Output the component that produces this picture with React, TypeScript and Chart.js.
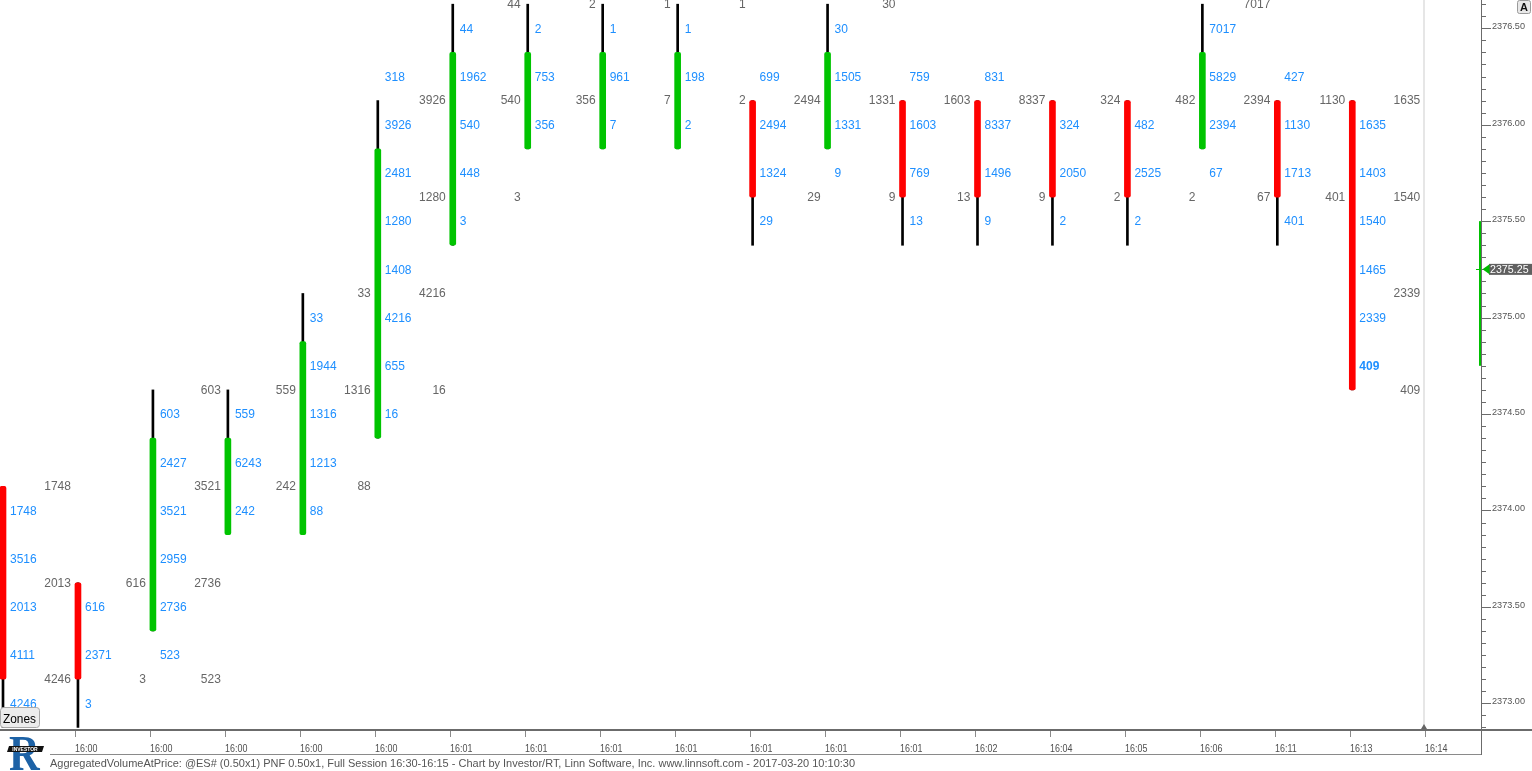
import React, { useEffect, useRef } from "react";
import { Chart, registerables } from "chart.js";

Chart.register(...registerables);

// ---------- data ----------
const timeLabels = [
  "", "16:00", "16:00", "16:00", "16:00", "16:00",
  "16:01", "16:01", "16:01", "16:01", "16:01", "16:01", "16:01",
  "16:02", "16:04", "16:05", "16:06", "16:11", "16:13", "16:14",
];
const direction = [
  "down", "down", "up", "up", "up", "up", "up", "up", "up", "up",
  "down", "up", "down", "down", "down", "down", "up", "down", "down", "none",
];
const bodyLow = [
  2373.125, 2373.125, 2373.375, 2373.875, 2373.875, 2374.375, 2375.375, 2375.875, 2375.875, 2375.875,
  2375.625, 2375.875, 2375.625, 2375.625, 2375.625, 2375.625, 2375.875, 2375.625, 2374.625, null,
];
const bodyHigh = [
  2374.125, 2373.625, 2374.375, 2374.375, 2374.875, 2375.875, 2376.375, 2376.375, 2376.375, 2376.375,
  2376.125, 2376.375, 2376.125, 2376.125, 2376.125, 2376.125, 2376.375, 2376.125, 2376.125, null,
];
const wickLow = [
  2372.875, 2372.875, 2373.375, 2373.875, 2373.875, 2374.375, 2375.375, 2375.875, 2375.875, 2375.875,
  2375.375, 2375.875, 2375.375, 2375.375, 2375.375, 2375.375, 2375.875, 2375.375, 2374.625, null,
];
const wickHigh = [
  2374.125, 2373.625, 2374.625, 2374.625, 2375.125, 2376.125, 2376.625, 2376.625, 2376.625, 2376.625,
  2376.125, 2376.625, 2376.125, 2376.125, 2376.125, 2376.125, 2376.625, 2376.125, 2376.125, null,
];
// volume at price (blue), first value at volumeTop, then every 0.25 lower
const volumeTop = [
  2374.0, 2373.5, 2374.5, 2374.5, 2375.0, 2376.25, 2376.5, 2376.5, 2376.5, 2376.5,
  2376.25, 2376.5, 2376.25, 2376.25, 2376.0, 2376.0, 2376.5, 2376.25, 2376.0, null,
];
const volumeValues = [
  [1748, 3516, 2013, 4111, 4246],
  [616, 2371, 3],
  [603, 2427, 3521, 2959, 2736, 523],
  [559, 6243, 242],
  [33, 1944, 1316, 1213, 88],
  [318, 3926, 2481, 1280, 1408, 4216, 655, 16],
  [44, 1962, 540, 448, 3],
  [2, 753, 356],
  [1, 961, 7],
  [1, 198, 2],
  [699, 2494, 1324, 29],
  [30, 1505, 1331, 9],
  [759, 1603, 769, 13],
  [831, 8337, 1496, 9],
  [324, 2050, 2],
  [482, 2525, 2],
  [7017, 5829, 2394, 67],
  [427, 1130, 1713, 401],
  [1635, 1403, 1540, 1465, 2339, 409],
  [],
];
// prior-column volumes (grey), first value at priorTop, then every 0.5 lower
const priorTop = [
  null, 2374.125, 2373.625, 2374.625, 2374.625, 2375.125, 2376.125, 2376.625, 2376.625, 2376.625,
  2376.625, 2376.125, 2376.625, 2376.125, 2376.125, 2376.125, 2376.125, 2376.625, 2376.125, 2376.125,
];
const priorValues = [
  [],
  [1748, 2013, 4246],
  [616, 3],
  [603, 3521, 2736, 523],
  [559, 242],
  [33, 1316, 88],
  [3926, 1280, 4216, 16],
  [44, 540, 3],
  [2, 356],
  [1, 7],
  [1, 2],
  [2494, 29],
  [30, 1331, 9],
  [1603, 13],
  [8337, 9],
  [324, 2],
  [482, 2],
  [7017, 2394, 67],
  [1130, 401],
  [1635, 1540, 2339, 409],
];
const boldVolumeColumn = 18;
const yTickValues = [2376.5, 2376.0, 2375.5, 2375.0, 2374.5, 2374.0, 2373.5, 2373.0];
const yTickLabels = ["2376.50", "2376.00", "2375.50", "2375.00", "2374.50", "2374.00", "2373.50", "2373.00"];
const lastPrice = 2375.25;
const lastPriceLabel = "2375.25";
const lastRangeLow = 2374.75;
const lastRangeHigh = 2375.5;
const footerText =
  "AggregatedVolumeAtPrice: @ES# (0.50x1) PNF 0.50x1, Full Session 16:30-16:15 - Chart by Investor/RT, Linn Software, Inc. www.linnsoft.com - 2017-03-20 10:10:30";

const Y_MIN = 2372.8668;
const Y_MAX = 2376.6467;
const X_MIN = -0.04;
const X_MAX = 19.717;

const FONT = '"Liberation Sans", Arial, sans-serif';

function drawText(
  ctx: CanvasRenderingContext2D,
  s: string,
  x: number,
  y: number,
  size: number,
  color: string,
  align: CanvasTextAlign,
  sx: number,
  weight = "normal"
) {
  ctx.save();
  ctx.font = `${weight} ${size}px ${FONT}`;
  ctx.fillStyle = color;
  ctx.textAlign = align;
  ctx.textBaseline = "alphabetic";
  ctx.translate(x, y);
  ctx.scale(sx, 1);
  ctx.fillText(s, 0, 0);
  ctx.restore();
}

const overlayPlugin = {
  id: "overlay",
  beforeDatasetsDraw(chart: any) {
    const { ctx, chartArea: ca, scales } = chart;
    const cx = Math.round(scales.x.getPixelForValue(timeLabels.length - 1) - 3);
    ctx.save();
    ctx.fillStyle = "#e6e6e6";
    ctx.fillRect(cx - 1, ca.top, 2, ca.bottom - ca.top);
    ctx.restore();
  },
  afterDatasetsDraw(chart: any) {
    const { ctx, chartArea: ca, scales } = chart;
    const xs = scales.x;
    const ys = scales.y;
    ctx.save();
    ctx.beginPath();
    ctx.rect(ca.left, ca.top, ca.right - ca.left, ca.bottom - ca.top);
    ctx.clip();
    for (let i = 0; i < timeLabels.length; i++) {
      const px = xs.getPixelForValue(i);
      const vals = volumeValues[i];
      const top = volumeTop[i];
      if (top !== null) {
        vals.forEach((v, j) => {
          const py = ys.getPixelForValue(top - 0.25 * j);
          const bold = i === boldVolumeColumn && j === vals.length - 1;
          drawText(ctx, String(v), px + 7, py + 4.3, 13.5, "#1e8fff", "left", 0.89, bold ? "bold" : "normal");
        });
      }
      const ptop = priorTop[i];
      if (ptop !== null) {
        priorValues[i].forEach((v, j) => {
          const py = ys.getPixelForValue(ptop - 0.5 * j);
          drawText(ctx, String(v), px - 7, py + 3.8, 13.5, "#666666", "right", 0.89);
        });
      }
    }
    // last-bar range line
    const yHi = ys.getPixelForValue(lastRangeHigh);
    const yLo = ys.getPixelForValue(lastRangeLow);
    ctx.fillStyle = "#00c000";
    ctx.fillRect(ca.right - 2, yHi, 2, yLo - yHi);
    const lp = Math.round(ys.getPixelForValue(lastPrice));
    ctx.fillRect(ca.right - 5, lp, 4, 1);
    // small marker at the last column
    const cx = Math.round(xs.getPixelForValue(timeLabels.length - 1) - 3);
    ctx.fillStyle = "#666666";
    ctx.beginPath();
    ctx.moveTo(cx, ca.bottom - 5);
    ctx.lineTo(cx + 3, ca.bottom);
    ctx.lineTo(cx - 3, ca.bottom);
    ctx.closePath();
    ctx.fill();
    ctx.restore();
  },
  afterDraw(chart: any) {
    const { ctx, chartArea: ca, scales, width, height } = chart;
    const xs = scales.x;
    const ys = scales.y;
    ctx.save();
    // bottom axis line
    ctx.fillStyle = "#6b6b6b";
    ctx.fillRect(0, ca.bottom, width, 2);
    // right axis line
    ctx.fillRect(ca.right, 0, 1, ca.bottom + 26);
    // line under time labels
    ctx.fillStyle = "#8a8a8a";
    ctx.fillRect(50, ca.bottom + 25, ca.right - 50, 1);

    // x ticks + labels
    for (let i = 0; i < timeLabels.length; i++) {
      if (!timeLabels[i]) continue;
      const tx = Math.round(xs.getPixelForValue(i) - 2.5);
      ctx.fillStyle = "#8a8a8a";
      ctx.fillRect(tx, ca.bottom + 2, 1, 6);
      drawText(ctx, timeLabels[i], tx, ca.bottom + 22.5, 10.9, "#4f4f4f", "left", 0.82);
    }

    // y minor / major ticks
    ctx.fillStyle = "#6b6b6b";
    const kStart = Math.ceil(Y_MIN * 16);
    const kEnd = Math.floor(Y_MAX * 16);
    for (let k = kStart; k <= kEnd; k++) {
      const p = k / 16;
      const py = Math.round(ys.getPixelForValue(p));
      const major = k % 8 === 0;
      ctx.fillRect(ca.right + 1, py, major ? 9 : 4, 1);
    }
    yTickValues.forEach((v, idx) => {
      const py = Math.round(ys.getPixelForValue(v));
      drawText(ctx, yTickLabels[idx], ca.right + 11, py + 0.5, 9.6, "#555555", "left", 0.95);
    });

    // last price marker
    const lp = ys.getPixelForValue(lastPrice);
    ctx.fillStyle = "#606060";
    ctx.fillRect(ca.right + 8, lp - 5.5, width - ca.right - 8, 11);
    ctx.fillStyle = "#00b800";
    ctx.beginPath();
    ctx.moveTo(ca.right + 1.5, lp);
    ctx.lineTo(ca.right + 8.5, lp - 5);
    ctx.lineTo(ca.right + 8.5, lp + 5);
    ctx.closePath();
    ctx.fill();
    drawText(ctx, lastPriceLabel, ca.right + 9, lp + 4, 11, "#ffffff", "left", 0.97);

    // "A" button
    ctx.fillStyle = "#e8e8e8";
    ctx.strokeStyle = "#9a9a9a";
    ctx.lineWidth = 1;
    ctx.beginPath();
    ctx.roundRect(width - 14.5, 0.5, 13, 13, 2);
    ctx.fill();
    ctx.stroke();
    drawText(ctx, "A", width - 8, 11, 11, "#111111", "center", 1, "bold");

    // "Zones" button
    ctx.fillStyle = "#ececec";
    ctx.strokeStyle = "#a8a8a8";
    ctx.beginPath();
    ctx.roundRect(0.5, ca.bottom - 21.5, 39, 20, 3);
    ctx.fill();
    ctx.stroke();
    drawText(ctx, "Zones", 3, ca.bottom - 6.5, 13.5, "#000000", "left", 0.88);

    // logo
    ctx.save();
    ctx.font = `bold 50px "Liberation Serif", serif`;
    ctx.fillStyle = "#1d62a6";
    ctx.textAlign = "left";
    ctx.textBaseline = "alphabetic";
    ctx.translate(9, height - 1);
    ctx.scale(0.85, 1);
    ctx.fillText("R", 0, 0);
    ctx.restore();
    ctx.fillStyle = "#111111";
    ctx.beginPath();
    ctx.moveTo(9, height - 25);
    ctx.lineTo(44, height - 25);
    ctx.lineTo(42, height - 19);
    ctx.lineTo(7, height - 19);
    ctx.closePath();
    ctx.fill();
    drawText(ctx, "INVESTOR", 25, height - 20.5, 5, "#ffffff", "center", 1, "bold");

    // footer
    ctx.font = `10.7px ${FONT}`;
    const w = ctx.measureText(footerText).width;
    drawText(ctx, footerText, 50, height - 4.3, 10.7, "#555555", "left", 805 / w);
    ctx.restore();
  },
};

export default function App() {
  const canvasRef = useRef<HTMLCanvasElement | null>(null);

  useEffect(() => {
    document.body.style.margin = "0";
    const canvas = canvasRef.current;
    if (!canvas) return;

    const idx = timeLabels.map((_, i) => i).filter((i) => bodyLow[i] !== null);
    const bodyData = idx.map((i) => ({ x: i, y: [bodyLow[i], bodyHigh[i]] }));
    const wickData = idx.map((i) => ({ x: i, y: [wickLow[i], wickHigh[i]] }));
    const bodyColors = idx.map((i) => (direction[i] === "up" ? "#00c400" : "#ff0000"));

    const chart = new Chart(canvas, {
      type: "bar",
      data: {
        datasets: [
          {
            label: "body",
            data: bodyData as any,
            backgroundColor: bodyColors,
            barThickness: 6,
            grouped: false,
            borderRadius: 2,
            borderSkipped: false,
          } as any,
          {
            label: "wick",
            data: wickData as any,
            backgroundColor: "#000000",
            barThickness: 2,
            grouped: false,
            borderRadius: 0,
            borderSkipped: false,
          } as any,
        ],
      },
      options: {
        animation: false,
        responsive: false,
        devicePixelRatio: 1,
        layout: { padding: 0 },
        plugins: { legend: { display: false }, tooltip: { enabled: false } },
        events: [],
        scales: {
          x: {
            type: "linear",
            min: X_MIN,
            max: X_MAX,
            offset: false,
            grid: { display: false },
            border: { display: false },
            ticks: { display: false },
            afterFit: (s: any) => {
              s.height = 42;
            },
          },
          y: {
            type: "linear",
            position: "right",
            min: Y_MIN,
            max: Y_MAX,
            grid: { display: false },
            border: { display: false },
            ticks: { display: false },
            afterFit: (s: any) => {
              s.width = 51;
            },
          },
        },
      } as any,
      plugins: [overlayPlugin],
    });
    return () => chart.destroy();
  }, []);

  return (
    <div style={{ position: "fixed", left: 0, top: 0, width: 1532, height: 771, background: "#ffffff" }}>
      <canvas ref={canvasRef} width={1532} height={771} style={{ display: "block" }} />
    </div>
  );
}
